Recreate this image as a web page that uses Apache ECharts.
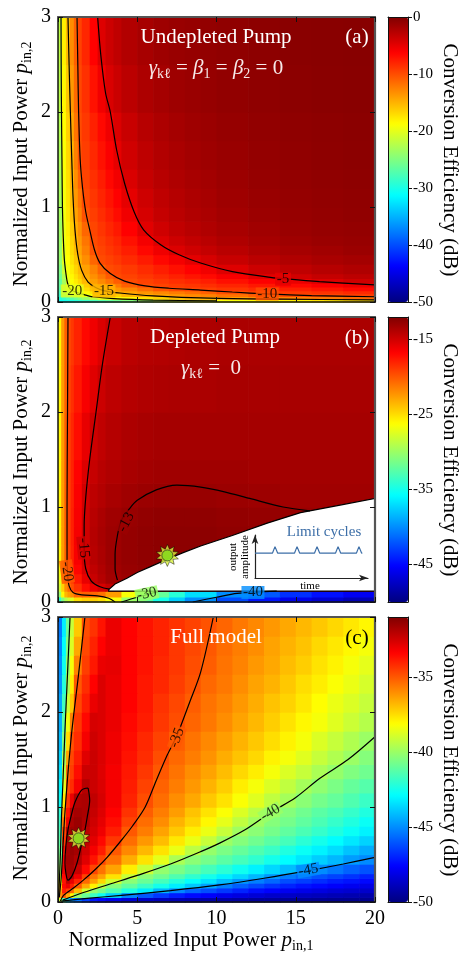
<!DOCTYPE html>
<html>
<head>
<meta charset="utf-8">
<title></title>
<script type="text/javascript" src="https://cdn.jsdelivr.net/npm/echarts@6/dist/echarts.min.js"></script>
</head>
<body style="margin:0;background:#fff;">
<div id="chart" style="width:465px;height:954px;"></div>
<script type="text/javascript">
// ---- panel (a): undepleted pump, cell edges + values (dB), rows bottom -> top
var xEdgesA = [0, 0.25, 0.5, 0.75, 1, 1.25, 1.5, 2, 2.5, 3, 3.5, 4, 5, 6, 7, 8, 9, 10, 12, 14, 16, 18, 20];
var yEdgesA = [0, 0.03, 0.06, 0.09, 0.12, 0.16, 0.2, 0.25, 0.3, 0.4, 0.5, 0.6, 0.7, 0.85, 1.0, 1.2, 1.4, 1.7, 2.0, 2.5, 3];
var effA = [
  [-30.8, -30.5, -30.15, -29.8, -29.45, -29.1, -28.6, -27.9, -27.2, -26.55, -25.85, -24.8, -23.45, -22.05, -20.7, -19.85, -19.55, -19.1, -18.55, -17.95, -17.35, -16.8],
  [-29.55, -28.6, -27.7, -26.75, -25.85, -24.9, -23.5, -21.65, -19.95, -19.5, -19.0, -18.3, -17.35, -16.4, -15.45, -14.8, -14.45, -13.95, -13.25, -12.6, -12.0, -11.3],
  [-28.8, -27.4, -26.0, -24.6, -23.2, -21.8, -19.9, -19.05, -18.2, -17.3, -16.45, -15.2, -14.55, -14.05, -13.6, -13.1, -12.6, -11.85, -10.9, -9.95, -9.7, -9.4],
  [-28.0, -25.95, -23.9, -21.85, -19.95, -19.4, -18.5, -17.4, -16.25, -15.1, -14.7, -14.2, -13.55, -12.9, -12.25, -11.6, -10.95, -10.0, -9.55, -9.1, -8.7, -8.25],
  [-27.1, -24.25, -21.4, -19.65, -18.95, -18.2, -17.15, -15.7, -14.7, -14.15, -13.6, -12.8, -11.65, -10.55, -9.85, -9.6, -9.35, -8.9, -8.4, -7.85, -7.3, -6.75],
  [-26.5, -23.6, -20.65, -19.3, -18.45, -17.55, -16.25, -14.75, -13.9, -13.0, -12.15, -10.85, -9.85, -9.5, -9.15, -8.85, -8.5, -8.0, -7.35, -6.65, -6.0, -5.35],
  [-26.35, -23.0, -19.9, -18.85, -17.8, -16.75, -15.2, -14.0, -12.95, -11.85, -10.75, -9.85, -9.4, -8.95, -8.5, -8.1, -7.65, -7.0, -6.15, -5.25, -4.5, -3.85],
  [-25.8, -22.4, -19.65, -18.45, -17.25, -16.05, -14.6, -13.3, -12.0, -10.65, -9.85, -9.45, -8.9, -8.35, -7.8, -7.25, -6.7, -5.9, -4.8, -4.0, -3.4, -2.95],
  [-25.1, -21.4, -19.2, -17.95, -16.65, -15.4, -14.1, -12.6, -11.05, -9.9, -9.55, -9.05, -8.35, -7.65, -7.0, -6.3, -5.6, -4.65, -3.75, -3.1, -2.65, -2.3],
  [-24.1, -20.4, -18.75, -17.35, -15.95, -14.7, -13.2, -11.2, -9.85, -9.4, -8.95, -8.3, -7.5, -6.6, -5.75, -4.92, -4.25, -3.5, -2.85, -2.35, -2.0, -1.75],
  [-23.95, -19.95, -18.45, -16.95, -15.45, -14.2, -12.5, -10.2, -9.5, -8.95, -8.4, -7.65, -6.6, -5.5, -4.55, -3.9, -3.35, -2.8, -2.25, -1.85, -1.6, -1.35],
  [-23.85, -19.85, -18.25, -16.65, -15.05, -13.8, -11.95, -9.85, -9.25, -8.6, -8.0, -7.05, -5.75, -4.6, -3.8, -3.25, -2.8, -2.3, -1.85, -1.55, -1.3, -1.15],
  [-23.65, -19.6, -17.95, -16.25, -14.65, -13.3, -11.25, -9.6, -8.85, -8.1, -7.4, -6.25, -4.82, -3.9, -3.2, -2.75, -2.35, -1.95, -1.6, -1.3, -1.1, -0.97],
  [-23.4, -19.4, -17.6, -15.8, -14.15, -12.55, -10.2, -9.25, -8.4, -7.6, -6.8, -5.55, -4.25, -3.4, -2.85, -2.4, -2.1, -1.7, -1.4, -1.15, -1.0, -0.85],
  [-23.3, -19.3, -17.4, -15.55, -13.7, -11.9, -9.8, -8.9, -8.0, -7.2, -6.3, -5.0, -3.85, -3.1, -2.6, -2.2, -1.9, -1.55, -1.25, -1.05, -0.9, -0.77],
  [-23.2, -19.2, -17.2, -15.3, -13.2, -11.05, -9.5, -8.55, -7.6, -6.6, -5.65, -4.45, -3.4, -2.75, -2.3, -1.95, -1.7, -1.4, -1.1, -0.92, -0.78, -0.68],
  [-23, -19, -16.9, -14.9, -12.5, -10.1, -9.25, -8.2, -7.1, -6.05, -5.0, -3.95, -3.05, -2.45, -2.05, -1.7, -1.5, -1.25, -1.0, -0.82, -0.7, -0.6],
  [-22.7, -18.7, -16.5, -14.3, -11.9, -9.9, -9.0, -7.8, -6.65, -5.5, -4.5, -3.55, -2.7, -2.2, -1.8, -1.55, -1.35, -1.1, -0.9, -0.74, -0.63, -0.55],
  [-22.3, -18.4, -16.1, -13.7, -11.4, -9.7, -8.6, -7.1, -5.6, -4.4, -3.65, -2.9, -2.2, -1.8, -1.5, -1.26, -1.1, -0.9, -0.73, -0.6, -0.51, -0.45],
  [-22.1, -18.05, -15.4, -13.1, -10.9, -9.45, -8.1, -6.3, -4.65, -3.75, -3.1, -2.45, -1.9, -1.5, -1.25, -1.07, -0.93, -0.77, -0.62, -0.51, -0.44, -0.38]
];
var c5A = [[2.5, 3], [2.7, 2.6], [3.0, 2.2], [3.3, 2.0], [3.7, 1.6], [4.2, 1.25], [4.8, 0.95], [5.4, 0.76], [6.5, 0.6], [7.6, 0.5], [9, 0.41], [11, 0.32], [13.4, 0.26], [14.6, 0.24], [16.5, 0.215], [20, 0.18]];
var c10A = [[1.2, 3], [1.25, 2.5], [1.3, 2], [1.4, 1.5], [1.55, 1.2], [1.75, 0.95], [2.0, 0.76], [2.3, 0.55], [2.65, 0.41], [3.3, 0.3], [4.2, 0.22], [5.5, 0.17], [7, 0.145], [9, 0.126], [11, 0.105], [13.2, 0.085], [16, 0.068], [20, 0.055]];
var c15A = [[0.63, 3], [0.7, 2.5], [0.78, 2], [0.87, 1.5], [0.95, 1.1], [1.07, 0.76], [1.25, 0.5], [1.5, 0.33], [1.9, 0.21], [2.4, 0.15], [2.95, 0.118], [3.9, 0.095], [6, 0.065], [9.6, 0.04], [14, 0.03], [20, 0.022]];
var c20A = [[0.19, 3], [0.2, 2.5], [0.22, 2], [0.25, 1.5], [0.28, 1.0], [0.33, 0.7], [0.4, 0.45], [0.5, 0.3], [0.6, 0.2], [0.75, 0.14], [0.95, 0.116], [1.6, 0.08], [2.2, 0.055], [3.5, 0.035], [6, 0.02], [10, 0.012]];
var labelsA = [['-20', 0.9, 0.116, 0], ['-15', 2.9, 0.116, 0], ['-10', 13.2, 0.085, 0], ['-5', 14.2, 0.24, 0]];

// ---- panel (b): depleted pump
var xEdgesB = [0, 0.2, 0.4, 0.6, 0.8, 1, 1.5, 2, 2.5, 3, 4, 5, 6, 7, 8, 10, 12, 14, 16, 18, 20];
var yEdgesB = [0, 0.055, 0.115, 0.2, 0.3, 0.4, 0.6, 0.8, 1.0, 1.25, 1.5, 2, 2.5, 3];
var effB = [
  [-34, -31, -29, -28, -27.5, -25, -24.5, -24.5, -25, -26.5, -30, -32.5, -35, -37.5, -40, -42.5, -44.5, -46, -47, -48],
  [-30, -26, -23.5, -22.5, -22, -20.5, -20.3, -20.5, -21, -22.5, -26.5, -29.5, -32, -34.3, -37, -40, -42, -43.5, -44.7, -45.7],
  [-28, -24.5, -22, -20.6, -19.7, -18.6, -17.2, -16, -15.2, -14.5, -14, -13.8, -13.7, -13.6, -13.5, -13.5, -13.5, -13.5, -13.5, -13.5],
  [-27, -23.5, -21.2, -20, -19, -17.6, -15.9, -14.7, -14, -13.3, -13, -12.8, -12.7, -12.7, -12.7, -12.8, -12.9, -13, -13, -13],
  [-26.5, -23, -20.6, -19.4, -18.3, -16.9, -15.3, -14.4, -13.8, -13.2, -12.9, -12.7, -12.6, -12.6, -12.6, -12.7, -12.8, -12.9, -13, -13],
  [-26, -22.5, -20.3, -19.1, -18, -16.5, -15, -14.1, -13.6, -13.1, -12.8, -12.6, -12.5, -12.5, -12.5, -12.6, -12.7, -12.8, -12.9, -13],
  [-26, -22.5, -20.2, -19, -17.9, -16.4, -14.9, -14, -13.5, -13.1, -12.8, -12.6, -12.5, -12.5, -12.5, -12.6, -12.7, -12.8, -12.9, -13],
  [-26, -22.5, -20.2, -19, -17.9, -16.5, -14.9, -14.1, -13.6, -13.2, -12.9, -12.7, -12.6, -12.6, -12.6, -12.7, -12.8, -12.9, -13, -13.1],
  [-26, -22.5, -20.2, -19, -18, -16.6, -15, -14.3, -13.9, -13.5, -13.2, -13, -12.9, -12.9, -12.9, -13, -13.1, -13.2, -13.2, -13.2],
  [-26, -22.5, -20.2, -19, -18, -16.8, -15.4, -14.6, -14.1, -13.8, -13.5, -13.3, -13.2, -13.2, -13.2, -13.2, -13.3, -13.3, -13.3, -13.3],
  [-26, -22.5, -20.2, -19.1, -18.2, -17.2, -15.9, -14.9, -14.4, -14, -13.7, -13.5, -13.4, -13.4, -13.4, -13.4, -13.4, -13.4, -13.4, -13.4],
  [-26, -22.5, -20.3, -19.3, -18.5, -17.6, -16.5, -15.6, -14.8, -14.3, -14, -13.8, -13.7, -13.6, -13.6, -13.5, -13.5, -13.5, -13.5, -13.5],
  [-26, -22.5, -20.3, -19.5, -18.8, -18, -17, -16.2, -15.4, -14.7, -14.2, -14, -13.9, -13.8, -13.7, -13.6, -13.6, -13.6, -13.6, -13.6]
];
var c13B = [[3.75, 0.23], [3.6, 0.35], [3.6, 0.5], [3.75, 0.7], [4.0, 0.86], [4.5, 0.98], [5.0, 1.07], [6.2, 1.18], [7.5, 1.23], [9, 1.21], [10.5, 1.16], [12.1, 1.09], [14.2, 1.0], [15.9, 0.96]];
var c15B = [[3.3, 3], [2.8, 2.5], [2.4, 2], [2.0, 1.5], [1.75, 1.1], [1.65, 0.8], [1.65, 0.55], [1.75, 0.35], [2.1, 0.22], [2.65, 0.16], [3.25, 0.135]];
var c20B = [[0.63, 3], [0.6, 2], [0.57, 1], [0.57, 0.5], [0.6, 0.3], [0.7, 0.17], [0.95, 0.1], [1.5, 0.075], [2.5, 0.065], [3.2, 0.04], [3.6, 0]];
var c30B = [[4.0, 0], [5.0, 0.05], [6.3, 0.11]];
var c40B = [[8.5, 0], [10, 0.05], [11.3, 0.09], [13.8, 0.115]];
var labelsB = [['-20', 0.57, 0.32, -82], ['-15', 1.62, 0.57, -85], ['-13', 4.3, 0.84, 62], ['-30', 5.6, 0.085, 12], ['-40', 12.3, 0.1, 0]];
// unstable (limit-cycle) region
var whiteTop = [[3.2, 0.13], [3.6, 0.19], [4.35, 0.25], [5.0, 0.31], [5.8, 0.37], [6.9, 0.45], [7.9, 0.52], [9, 0.59], [11, 0.7], [13.2, 0.83], [15.3, 0.94], [17.8, 1.02], [20, 1.09]];
var whiteBottom = [[20, 0.115], [3.2, 0.115]];
var starB = [[6.9, 0.49]];
var cycleT = [0, 0.155, 0.177, 0.2, 0.35, 0.372, 0.395, 0.527, 0.549, 0.572, 0.713, 0.735, 0.758, 0.898, 0.92, 0.943, 0.95];
var cycleA = [0.58, 0.58, 0.73, 0.58, 0.58, 0.73, 0.58, 0.58, 0.73, 0.58, 0.58, 0.73, 0.58, 0.58, 0.73, 0.58, 0.58];

// ---- panel (c): full model
var xEdgesC = [0, 0.25, 0.5, 0.75, 1, 1.5, 2, 2.5, 3, 4, 5, 6, 7, 8, 9, 10, 11, 12, 13, 14, 15, 16, 17, 18, 19, 20];
var yEdgesC = [0, 0.05, 0.1, 0.15, 0.2, 0.25, 0.3, 0.4, 0.5, 0.6, 0.7, 0.8, 0.9, 1.0, 1.15, 1.3, 1.45, 1.6, 1.8, 2.0, 2.2, 2.4, 2.6, 2.8, 3.0];
var effC = [
  [-39, -41.5, -43.5, -44.8, -45.5, -46.5, -47.2, -47.5, -48.0, -48.4, -48.7, -48.9, -49.0, -49.15, -49.25, -49.3, -49.4, -49.5, -49.5, -49.6, -49.6, -49.65, -49.7, -49.7, -49.7],
  [-36.0, -35.0, -36.5, -38.0, -40.1, -40.9, -41.75, -42.6, -43.8, -45.2, -46.0, -46.6, -47.1, -47.45, -47.7, -48.0, -48.2, -48.4, -48.6, -48.7, -48.8, -48.9, -49.0, -49.1, -49.2],
  [-36.5, -33.85, -34.5, -35.3, -36.9, -38.95, -40.2, -40.7, -41.4, -42.3, -43.2, -44.2, -45.1, -45.75, -46.2, -46.6, -47.0, -47.4, -47.6, -47.9, -48.05, -48.2, -48.4, -48.5, -48.6],
  [-37.2, -33.5, -33.0, -33.9, -35.1, -36.5, -37.9, -39.3, -40.4, -41.1, -41.8, -42.5, -43.2, -43.9, -44.6, -45.3, -45.85, -46.3, -46.7, -47.0, -47.3, -47.5, -47.7, -47.9, -48.1],
  [-38.2, -33.7, -32.15, -32.9, -34.0, -35.3, -36.35, -37.4, -38.95, -40.3, -40.9, -41.6, -42.2, -42.8, -43.4, -44.1, -44.7, -45.25, -45.7, -46.2, -46.5, -46.8, -47.1, -47.3, -47.5],
  [-38.9, -33.5, -31.9, -32.0, -33.1, -34.6, -35.6, -36.4, -37.6, -39.2, -40.3, -40.8, -41.4, -42.0, -42.5, -43.1, -43.6, -44.2, -44.8, -45.3, -45.7, -46.1, -46.4, -46.7, -47.0],
  [-39.8, -33.1, -31.8, -31.7, -32.35, -33.5, -34.65, -35.5, -36.4, -37.8, -39.1, -40.15, -40.6, -41.1, -41.6, -42.1, -42.6, -43.1, -43.6, -44.1, -44.6, -45.0, -45.4, -45.8, -46.1],
  [-40.4, -33.25, -31.7, -31.6, -31.95, -32.8, -33.7, -34.6, -35.5, -36.6, -37.6, -38.6, -39.7, -40.3, -40.7, -41.2, -41.6, -42.0, -42.5, -42.9, -43.3, -43.8, -44.2, -44.7, -45.05],
  [-40.8, -33.75, -31.8, -31.5, -31.7, -32.5, -33.2, -33.9, -35.0, -35.9, -36.8, -37.6, -38.5, -39.4, -40.1, -40.6, -41.0, -41.4, -41.8, -42.3, -42.7, -43.1, -43.5, -44.0, -44.4],
  [-41.2, -34.4, -31.9, -31.5, -31.45, -32.2, -32.85, -33.5, -34.4, -35.4, -36.2, -36.9, -37.7, -38.5, -39.2, -40.0, -40.4, -40.8, -41.2, -41.6, -42.1, -42.5, -42.9, -43.3, -43.7],
  [-41.5, -34.8, -32.0, -31.6, -31.45, -32.1, -32.6, -33.1, -33.9, -35.0, -35.7, -36.4, -37.1, -37.8, -38.5, -39.2, -39.9, -40.3, -40.7, -41.1, -41.5, -41.9, -42.3, -42.7, -43.1],
  [-41.8, -35.7, -33.1, -31.8, -31.5, -31.9, -32.45, -32.9, -33.6, -34.6, -35.4, -36.0, -36.7, -37.3, -38.0, -38.6, -39.3, -39.9, -40.4, -40.7, -41.1, -41.5, -41.9, -42.3, -42.7],
  [-42.1, -36.5, -33.7, -32.05, -31.7, -31.8, -32.3, -32.75, -33.4, -34.3, -35.1, -35.7, -36.3, -37.0, -37.6, -38.2, -38.8, -39.4, -40.0, -40.4, -40.8, -41.2, -41.5, -41.9, -42.3],
  [-42.7, -37.7, -34.4, -33.0, -31.9, -31.8, -32.2, -32.6, -33.2, -34.0, -34.8, -35.4, -36.0, -36.5, -37.1, -37.6, -38.2, -38.7, -39.3, -39.8, -40.3, -40.7, -41.0, -41.4, -41.8],
  [-43.0, -38.6, -34.85, -34.2, -33.2, -32.0, -32.4, -32.7, -33.2, -33.9, -34.6, -35.2, -35.7, -36.2, -36.7, -37.2, -37.8, -38.3, -38.8, -39.3, -39.8, -40.2, -40.6, -41.0, -41.3],
  [-43.4, -39.4, -35.3, -34.5, -33.6, -32.4, -32.4, -32.75, -33.2, -33.8, -34.4, -35.0, -35.5, -36.0, -36.4, -36.9, -37.4, -37.8, -38.3, -38.8, -39.2, -39.7, -40.1, -40.5, -40.8],
  [-43.7, -39.9, -36.4, -34.7, -33.9, -32.8, -32.4, -32.7, -33.1, -33.7, -34.2, -34.8, -35.3, -35.7, -36.1, -36.6, -37.0, -37.4, -37.9, -38.3, -38.7, -39.2, -39.6, -40.0, -40.4],
  [-44.1, -40.6, -37.5, -34.9, -34.2, -33.2, -32.45, -32.7, -33.1, -33.6, -34.1, -34.6, -35.1, -35.5, -35.9, -36.3, -36.7, -37.1, -37.5, -37.9, -38.3, -38.8, -39.2, -39.6, -40.0],
  [-44.4, -41.2, -38.4, -35.8, -34.4, -33.5, -32.6, -32.7, -33.0, -33.5, -33.9, -34.4, -34.8, -35.25, -35.6, -36.0, -36.4, -36.8, -37.2, -37.6, -38.0, -38.3, -38.7, -39.1, -39.5],
  [-44.6, -41.7, -39.1, -37.1, -34.7, -33.9, -33.0, -32.7, -33.0, -33.4, -33.8, -34.3, -34.7, -35.1, -35.5, -35.8, -36.2, -36.6, -37.0, -37.3, -37.7, -38.1, -38.5, -38.8, -39.2],
  [-44.9, -42.2, -39.7, -37.8, -35.0, -34.2, -33.4, -32.7, -33.0, -33.4, -33.8, -34.1, -34.5, -34.9, -35.3, -35.6, -36.0, -36.4, -36.7, -37.1, -37.5, -37.8, -38.2, -38.5, -38.9],
  [-45.0, -42.6, -40.1, -38.3, -35.8, -34.5, -33.8, -33.0, -32.9, -33.4, -33.7, -34.1, -34.4, -34.8, -35.1, -35.5, -35.8, -36.2, -36.5, -36.9, -37.2, -37.6, -37.9, -38.3, -38.6],
  [-45.2, -42.9, -40.5, -38.8, -36.5, -34.7, -34.0, -33.4, -33.0, -33.4, -33.7, -34.0, -34.4, -34.7, -35.0, -35.4, -35.7, -36.0, -36.4, -36.7, -37.0, -37.4, -37.7, -38.0, -38.3],
  [-45.4, -43.2, -40.9, -39.2, -37.1, -34.8, -34.3, -33.7, -33.0, -33.4, -33.7, -34.0, -34.3, -34.6, -34.9, -35.25, -35.6, -35.9, -36.2, -36.5, -36.8, -37.1, -37.4, -37.7, -38.0]
];
var c35C = [[0.15, 0.01], [0.35, 0.07], [1.0, 0.15], [1.6, 0.23], [2.4, 0.35], [3.1, 0.47], [4.0, 0.65], [4.7, 0.8], [5.5, 1.0], [6.2, 1.28], [6.9, 1.55], [7.5, 1.75], [8.3, 2.1], [9.0, 2.42], [9.8, 3.0]];
var c35LC = [[1.7, 3], [1.3, 2.4], [0.88, 1.81], [0.6, 1.3], [0.42, 0.9], [0.3, 0.55], [0.2, 0.25], [0.08, 0.05]];
var c40LC = [[0.76, 3], [0.6, 2.4], [0.44, 1.81], [0.32, 1.3], [0.22, 0.9], [0.15, 0.5], [0.08, 0.2], [0.02, 0.02]];
var c40C = [[0.3, 0.02], [1.6, 0.1], [3.5, 0.2], [5, 0.28], [7.1, 0.4], [9, 0.53], [10.2, 0.62], [11.8, 0.76], [13.4, 0.94], [15, 1.1], [16.5, 1.3], [18.3, 1.5], [20, 1.74]];
var c45C = [[0.2, 0.01], [2, 0.04], [4, 0.07], [7.1, 0.12], [10.2, 0.18], [13, 0.25], [15.8, 0.33], [18, 0.4], [20, 0.47]];
var c32C = [[1.9, 1.2], [2.0, 1.07], [1.85, 0.9], [1.7, 0.76], [1.45, 0.58], [1.2, 0.41], [0.9, 0.28], [0.63, 0.23], [0.5, 0.3], [0.44, 0.41], [0.5, 0.6], [0.63, 0.76], [0.85, 0.92], [1.07, 1.05], [1.5, 1.18], [1.9, 1.2]];
var labelsC = [['-35', 7.5, 1.73, 70], ['-40', 13.4, 0.94, 30], ['-45', 15.8, 0.335, 10]];
var starC = [[1.3, 0.67]];

// colour bars
var cbRange = [[-50, 0], [-50, -12], [-50, -31]];
var cbTicks = [[0, -10, -20, -30, -40, -50], [-15, -25, -35, -45], [-35, -40, -45, -50]];

var jet = ['#000080', '#0000ff', '#0080ff', '#00ffff', '#80ff80', '#ffff00', '#ff8000', '#ff0000', '#800000'];
var serif = 'Liberation Serif';

var myChart = echarts.init(document.getElementById('chart'));

function cells(xe, ye, vals) {
  var out = [];
  for (var j = 0; j < ye.length - 1; j++) {
    for (var i = 0; i < xe.length - 1; i++) {
      out.push([xe[i], xe[i + 1], vals[j][i], ye[j], ye[j + 1]]);
    }
  }
  return out;
}

function renderCell(params, api) {
  var p0 = api.coord([api.value(0), api.value(4)]);
  var p1 = api.coord([api.value(1), api.value(3)]);
  return {
    type: 'rect',
    shape: { x: p0[0], y: p0[1], width: p1[0] - p0[0] + 0.7, height: p1[1] - p0[1] + 0.7 },
    style: { fill: api.visual('color') }
  };
}

function heat(p, data) {
  return { type: 'custom', xAxisIndex: 2 * p, yAxisIndex: 2 * p, z: 2, silent: true,
    encode: { x: [0, 1], y: [3, 4] }, data: data, renderItem: renderCell };
}

function contour(p, pts) {
  return { type: 'line', xAxisIndex: 2 * p, yAxisIndex: 2 * p, z: 3, silent: true, data: pts,
    smooth: 0.3, symbol: 'none', lineStyle: { color: '#000', width: 1.2 } };
}

// contour labels; background box gets the colormap colour of its level
function labels(p, list) {
  return { type: 'scatter', xAxisIndex: 2 * p, yAxisIndex: 2 * p, z: 4, silent: true, symbol: 'rect',
    data: list.map(function (l) {
      return { value: [l[1], l[2], +l[0]], symbolRotate: l[3], symbolSize: [l[0].length * 7 + 2, 13], label: { rotate: l[3] } };
    }),
    label: { show: true, position: 'inside', color: '#000', fontFamily: serif, fontSize: 15,
      formatter: function (q) { return String(q.value[2]); } } };
}

function starPath(n, r1, r2) {
  var s = 'path://';
  for (var k = 0; k < 2 * n; k++) {
    var r = k % 2 ? r2 : r1, a = Math.PI * k / n - Math.PI / 2;
    s += (k ? 'L' : 'M') + (50 + r * Math.cos(a)).toFixed(2) + ' ' + (50 + r * Math.sin(a)).toFixed(2);
  }
  return s + 'Z';
}

function star(p, pt) {
  return [
    { type: 'scatter', xAxisIndex: 2 * p, yAxisIndex: 2 * p, z: 5, silent: true, data: pt,
      symbol: starPath(10, 50, 30), symbolSize: 22, itemStyle: { color: '#d9f23c', borderColor: '#000', borderWidth: 0.6 } },
    { type: 'scatter', xAxisIndex: 2 * p, yAxisIndex: 2 * p, z: 5, silent: true, data: pt,
      symbol: 'circle', symbolSize: 11, itemStyle: { color: '#80dd1c', borderColor: '#222', borderWidth: 0.8 } }
  ];
}

// axes
var xAxis = [], yAxis = [];
var edgeLine = { show: true, onZero: false, lineStyle: { color: '#111', width: 1.5 } };
var frameLine = { show: true, onZero: false, lineStyle: { color: '#555', width: 2.2 } };
var inTick = { show: true, inside: true, length: 5, lineStyle: { color: '#111', width: 1 } };
[0, 1, 2].forEach(function (p) {
  xAxis.push({ gridIndex: p, type: 'value', min: 0, max: 20, interval: 5, position: 'bottom', z: 5,
    axisLine: edgeLine, axisTick: inTick, splitLine: { show: false },
    axisLabel: { show: p === 2, margin: 7, color: '#000', fontFamily: serif, fontSize: 20 } });
  xAxis.push({ gridIndex: p, type: 'value', min: 0, max: 20, interval: 5, position: 'top', z: 5,
    axisLine: frameLine, axisTick: inTick, splitLine: { show: false }, axisLabel: { show: false } });
  yAxis.push({ gridIndex: p, type: 'value', min: 0, max: 3, interval: 1, position: 'left', z: 5,
    axisLine: edgeLine, axisTick: inTick, splitLine: { show: false },
    axisLabel: { margin: 7, color: '#000', fontFamily: serif, fontSize: 20 } });
  yAxis.push({ gridIndex: p, type: 'value', min: 0, max: 3, interval: 1, position: 'right', z: 5,
    axisLine: frameLine, axisTick: inTick, splitLine: { show: false }, axisLabel: { show: false } });
});
[0, 1, 2].forEach(function (k) {
  var g = 3 + k;
  var line = { show: true, onZero: false, lineStyle: { color: '#111', width: 1 } };
  ['bottom', 'top'].forEach(function (pos) {
    xAxis.push({ gridIndex: g, type: 'value', min: 0, max: 1, position: pos, z: 10,
      axisLine: line, axisTick: { show: false }, axisLabel: { show: false }, splitLine: { show: false } });
  });
  yAxis.push({ gridIndex: g, type: 'value', min: cbRange[k][0], max: cbRange[k][1], position: 'left', z: 10,
    axisLine: line, axisTick: { show: false }, axisLabel: { show: false }, splitLine: { show: false } });
  yAxis.push({ gridIndex: g, type: 'value', min: cbRange[k][0], max: cbRange[k][1], position: 'right', z: 10,
    axisLine: line, splitLine: { show: false },
    axisTick: { show: true, length: 4, customValues: cbTicks[k], lineStyle: { color: '#111' } },
    axisLabel: { show: true, customValues: cbTicks[k], margin: 5, color: '#000', fontFamily: serif, fontSize: 15 } });
});
// inset axes (limit cycles)
var arrowLine = { show: true, onZero: false, symbol: ['none', 'arrow'], symbolSize: [5, 9], lineStyle: { color: '#222', width: 1.2 } };
xAxis.push({ gridIndex: 6, type: 'value', min: 0, max: 1, z: 7, axisLine: arrowLine,
  axisTick: { show: false }, axisLabel: { show: false }, splitLine: { show: false } });
yAxis.push({ gridIndex: 6, type: 'value', min: 0, max: 1, z: 7, axisLine: arrowLine,
  axisTick: { show: false }, axisLabel: { show: false }, splitLine: { show: false } });

var series = [
  heat(0, cells(xEdgesA, yEdgesA, effA)),
  heat(1, cells(xEdgesB, yEdgesB, effB)),
  heat(2, cells(xEdgesC, yEdgesC, effC)),
  labels(0, labelsA),
  labels(1, labelsB),
  labels(2, labelsC),
  { type: 'custom', xAxisIndex: 2, yAxisIndex: 2, z: 2.5, silent: true, data: [0],
    renderItem: function (params, api) {
      var pts = whiteTop.concat(whiteBottom).map(function (q) { return api.coord(q); });
      return { type: 'polygon', shape: { points: pts }, style: { fill: '#fff', stroke: '#000', lineWidth: 1.2 } };
    } },
  contour(0, c5A), contour(0, c10A), contour(0, c15A), contour(0, c20A),
  contour(1, c13B), contour(1, c15B), contour(1, c20B), contour(1, c30B), contour(1, c40B),
  contour(2, c35C), contour(2, c35LC), contour(2, c40LC), contour(2, c40C), contour(2, c45C), contour(2, c32C),
  { type: 'line', xAxisIndex: 12, yAxisIndex: 12, z: 7, silent: true, symbol: 'none',
    data: cycleT.map(function (t, i) { return [t, cycleA[i]]; }),
    lineStyle: { color: '#3d6fa8', width: 1.2 } }
].concat(star(1, starB), star(2, starC));

function vm(idx, k, top) {
  return { type: 'continuous', seriesIndex: idx, dimension: 2, min: cbRange[k][0], max: cbRange[k][1],
    inRange: { color: jet }, left: 383, top: top, itemWidth: 20, itemHeight: 285,
    calculable: false, hoverLink: false, padding: 5 };
}

function txt(x, y, text, size, color, rot) {
  return { type: 'text', x: x, y: y, rotation: rot || 0, z: 100, silent: true,
    style: { text: text, fill: color, fontFamily: serif, fontSize: size,
      align: 'center', verticalAlign: 'middle', textAlign: 'center', textVerticalAlign: 'middle',
      rich: {
        i: { fontFamily: serif, fontSize: size, fontStyle: 'italic', fill: color },
        s: { fontFamily: serif, fontSize: Math.round(size * 0.66), fill: color, padding: [Math.round(size * 0.55), 0, 0, 0] }
      } } };
}

var yName = 'Normalized Input Power {i|p}{s|in,2}';
var cbName = 'Conversion Efficiency (dB)';
var graphic = [
  txt(21, 164, yName, 21, '#000', Math.PI / 2),
  txt(21, 462, yName, 21, '#000', Math.PI / 2),
  txt(21, 758, yName, 21, '#000', Math.PI / 2),
  txt(191, 940, 'Normalized Input Power {i|p}{s|in,1}', 21, '#000'),
  txt(450, 160, cbName, 21, '#000', -Math.PI / 2),
  txt(450, 460, cbName, 21, '#000', -Math.PI / 2),
  txt(450, 760, cbName, 21, '#000', -Math.PI / 2),
  txt(216, 37, 'Undepleted Pump', 21, '#fff'),
  txt(216, 68, '{i|γ}{s|kℓ} = {i|β}{s|1} = {i|β}{s|2} = 0', 21, '#f6e9e9'),
  txt(357, 37, '(a)', 21, '#fff'),
  txt(215, 337, 'Depleted Pump', 21, '#fff'),
  txt(211, 368, '{i|γ}{s|kℓ} =  0', 21, '#f6e9e9'),
  txt(357, 338, '(b)', 21, '#fff'),
  txt(216, 637, 'Full model', 21, '#fff'),
  txt(357, 638, '(c)', 21, '#000'),
  txt(324, 532, 'Limit cycles', 15, '#3d6fa8'),
  txt(233, 557, 'output', 11, '#000', Math.PI / 2),
  txt(245, 557, 'amplitude', 11, '#000', Math.PI / 2),
  txt(310, 586, 'time', 11, '#000')
];

var option = {
  animation: false,
  backgroundColor: '#fff',
  grid: [
    { left: 58, top: 17, width: 317, height: 285 },
    { left: 58, top: 317, width: 317, height: 285 },
    { left: 58, top: 617, width: 317, height: 285 },
    { left: 388, top: 17, width: 20, height: 285 },
    { left: 388, top: 317, width: 20, height: 285 },
    { left: 388, top: 617, width: 20, height: 285 },
    { left: 255, top: 535, width: 113, height: 43 }
  ],
  xAxis: xAxis,
  yAxis: yAxis,
  visualMap: [vm([0, 3], 0, 12), vm([1, 4], 1, 312), vm([2, 5], 2, 612)],
  series: series,
  graphic: graphic
};
myChart.setOption(option);
</script>
</body>
</html>
